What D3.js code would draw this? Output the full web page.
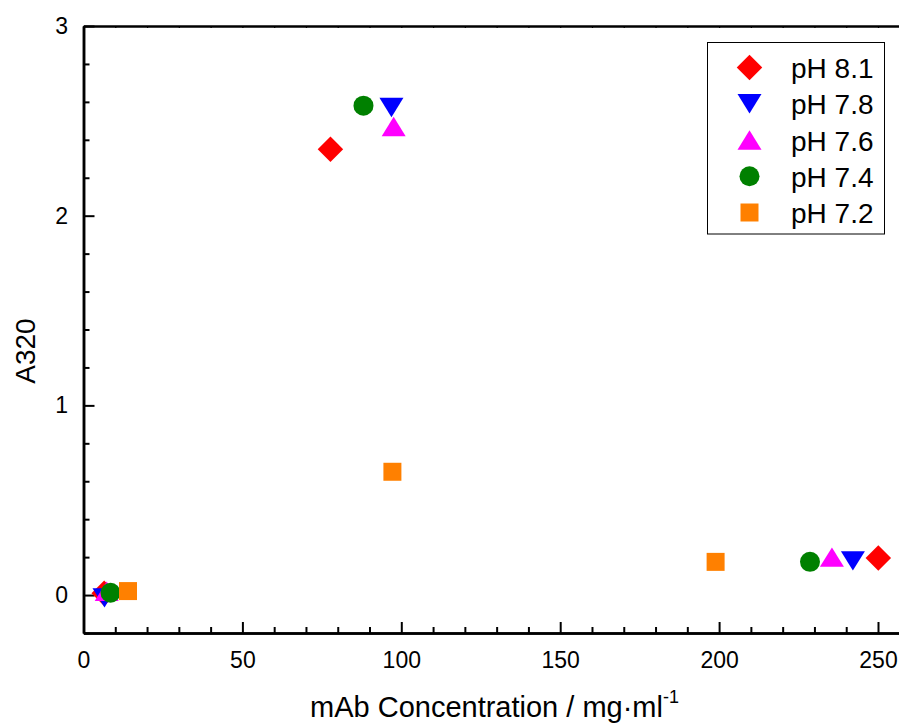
<!DOCTYPE html>
<html>
<head>
<meta charset="utf-8">
<script src="https://cdn.jsdelivr.net/npm/d3@7"></script>
<style>
  html, body { margin: 0; padding: 0; background: #fff; }
  svg { display: block; font-family: "Liberation Sans", Arial, Helvetica, sans-serif; }
</style>
</head>
<body>
<svg id="chart" width="899" height="724"></svg>
<script>
// ---- data ----
const seriesNames = ["pH 8.1", "pH 7.8", "pH 7.6", "pH 7.4", "pH 7.2"];
const seriesColors = ["#FF0000", "#0000FF", "#FF00FF", "#008000", "#FF8000"];
const seriesSymbols = ["diamond", "triDown", "triUp", "circle", "square"];

const concPH81 = [6.5, 77.7, 250.1];
const a320PH81 = [0.01, 2.35, 0.195];
const concPH78 = [6.6, 96.9, 242.1];
const a320PH78 = [-0.015, 2.57, 0.18];
const concPH76 = [7.3, 97.6, 235.5];
const a320PH76 = [0.02, 2.47, 0.2];
const concPH74 = [8.5, 88.1, 228.6];
const a320PH74 = [0.012, 2.58, 0.175];
const concPH72 = [14.0, 97.2, 198.9];
const a320PH72 = [0.021, 0.65, 0.175];

const xMajorTicks = [0, 50, 100, 150, 200, 250];
const yMajorTicks = [0, 1, 2, 3];
const xTitle = "mAb Concentration / mg\u00B7ml";
const xTitleSup = "-1";
const yTitle = "A320";

const concs = [concPH81, concPH78, concPH76, concPH74, concPH72];
const a320s = [a320PH81, a320PH78, a320PH76, a320PH74, a320PH72];

// ---- layout ----
const plotLeft = 83.5, plotTop = 26, plotBottom = 633;
const pxPerUnit = (878 - 83.5) / 250;
const xMax = 260;

const svg = d3.select("#chart");
const x = d3.scaleLinear().domain([0, xMax]).range([plotLeft, plotLeft + xMax * pxPerUnit]);
const y = d3.scaleLinear().domain([-0.2, 3]).range([plotBottom, plotTop]);

const xMinor = d3.range(0, xMax + 0.001, 10).filter(v => v % 50 !== 0);
const yMinor = d3.range(-0.2, 3.001, 0.2).map(v => +v.toFixed(1)).filter(v => Math.abs(v - Math.round(v)) > 1e-6);

// symbols
function symbolPath(type) {
  switch (type) {
    case "diamond": return d3.symbol().type(d3.symbolSquare).size(18 * 18)();
    case "circle": return d3.symbol().type(d3.symbolCircle).size(Math.PI * 10 * 10)();
    case "square": return d3.symbol().type(d3.symbolSquare).size(18 * 18)();
    case "triUp": { const w = 12, h = 9.7; return `M0,${-h}L${w},${h}L${-w},${h}Z`; }
    case "triDown": { const w = 12, h = 9.7; return `M0,${h}L${w},${-h}L${-w},${-h}Z`; }
  }
}
function symbolTransform(type, px, py) {
  return type === "diamond" ? `translate(${px},${py}) rotate(45)` : `translate(${px},${py})`;
}

// ---- axes ----
const tickFont = 23;
const gx = svg.append("g").attr("transform", `translate(0,${plotBottom})`)
  .call(d3.axisBottom(x).tickValues(xMajorTicks).tickSizeInner(-11).tickSizeOuter(0).tickPadding(19).tickFormat(d3.format("d")));
const gxm = svg.append("g").attr("transform", `translate(0,${plotBottom})`)
  .call(d3.axisBottom(x).tickValues(xMinor).tickSizeInner(-6).tickSizeOuter(0).tickFormat(""));
const gy = svg.append("g").attr("transform", `translate(${plotLeft},0)`)
  .call(d3.axisLeft(y).tickValues(yMajorTicks).tickSizeInner(-11).tickSizeOuter(0).tickPadding(15.5).tickFormat(d3.format("d")));
const gym = svg.append("g").attr("transform", `translate(${plotLeft},0)`)
  .call(d3.axisLeft(y).tickValues(yMinor).tickSizeInner(-6).tickSizeOuter(0).tickFormat(""));
const gtop = svg.append("g").attr("transform", `translate(0,${plotTop})`)
  .call(d3.axisTop(x).tickValues(xMinor.concat(xMajorTicks)).tickSizeInner(-2).tickSizeOuter(0).tickFormat(""));

[gx, gxm, gy, gym, gtop].forEach(g => {
  g.selectAll(".domain").attr("stroke", "#000").attr("stroke-width", 2.5);
  g.selectAll(".tick line").attr("stroke", "#000").attr("stroke-width", 2);
  g.selectAll(".tick text").attr("fill", "#000").attr("font-size", tickFont)
    .attr("font-family", "'Liberation Sans', Arial, sans-serif");
});
gtop.selectAll(".tick line").attr("stroke-width", 1.2);

// axis titles
const xt = svg.append("text")
  .attr("x", 310).attr("y", 717)
  .attr("font-size", 29).attr("fill", "#000");
xt.append("tspan").text(xTitle);
xt.append("tspan").attr("dy", -14).attr("font-size", 18).text(xTitleSup);

svg.append("text")
  .attr("transform", `translate(35,351) rotate(-90)`)
  .attr("text-anchor", "middle")
  .attr("font-size", 28).attr("fill", "#000")
  .text(yTitle);

// ---- points ----
const plot = svg.append("g");
seriesNames.forEach((name, i) => {
  const pts = concs[i].map((c, j) => ({ c, a: a320s[i][j] }));
  plot.selectAll(null).data(pts).enter().append("path")
    .attr("d", symbolPath(seriesSymbols[i]))
    .attr("transform", d => symbolTransform(seriesSymbols[i], x(d.c), y(d.a)))
    .attr("fill", seriesColors[i]);
});

// ---- legend ----
const legend = svg.append("g");
legend.append("rect")
  .attr("x", 707.5).attr("y", 42.5).attr("width", 177).attr("height", 191.5)
  .attr("fill", "#fff").attr("stroke", "#000").attr("stroke-width", 1);
const rowY = d3.scaleLinear().domain([0, 4]).range([67.5, 212.5]);
seriesNames.forEach((name, i) => {
  legend.append("path")
    .attr("d", symbolPath(seriesSymbols[i]))
    .attr("transform", symbolTransform(seriesSymbols[i], 749.5, rowY(i)))
    .attr("fill", seriesColors[i]);
  legend.append("text")
    .attr("x", 791).attr("y", rowY(i) + 10.5)
    .attr("font-size", 28).attr("fill", "#000")
    .text(name);
});
</script>
</body>
</html>
